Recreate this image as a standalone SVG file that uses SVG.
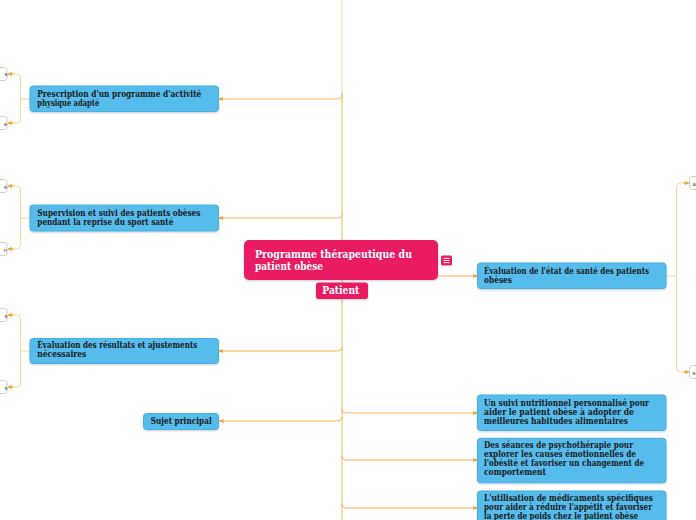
<svg xmlns="http://www.w3.org/2000/svg" width="696" height="520" viewBox="0 0 696 520">
<defs>
<style>
.n{fill:#55bcec;stroke:#49b0e2;stroke-width:1}
.t{font-family:"DejaVu Serif Condensed","DejaVu Serif",serif;font-weight:bold;font-size:8.6px;fill:#1a1a1a}
.ct{font-family:"DejaVu Serif Condensed","DejaVu Serif",serif;font-weight:bold;font-size:10.5px;fill:#ffffff}
.c{fill:none;stroke:#f5b555;stroke-width:1}
.b{fill:none;stroke:#fbd59a;stroke-width:1}
.s{fill:#ffffff;stroke:#cfcfcf;stroke-width:1}
.st{font-family:"Liberation Sans",sans-serif;font-size:6px;fill:#444}
</style>
<marker id="a" viewBox="0 0 6 6" refX="5" refY="3" markerWidth="5" markerHeight="5" orient="auto">
<path d="M0,0.5 L6,3 L0,5.5 Z" fill="#f5a53a"/>
</marker>
<filter id="sh" x="-5%" y="-20%" width="110%" height="150%">
<feDropShadow dx="0" dy="1" stdDeviation="0.8" flood-color="#000" flood-opacity="0.2"/>
</filter>
</defs>

<g id="connectors">
<line x1="342" y1="0" x2="342" y2="92" stroke="#d3e6a6" stroke-width="1"/>
<line class="c" x1="342" y1="92" x2="342" y2="520"/>
<path class="c" d="M342,95 Q342,99 338,99 L219,99" marker-end="url(#a)"/>
<path class="c" d="M342,214 Q342,218 338,218 L219,218" marker-end="url(#a)"/>
<path class="c" d="M342,347 Q342,351 338,351 L219,351" marker-end="url(#a)"/>
<path class="c" d="M342,417 Q342,421 338,421 L219.5,421" marker-end="url(#a)"/>
<path class="c" d="M342,272 Q342,276 346,276 L477,276" marker-end="url(#a)"/>
<path class="c" d="M342,409 Q342,413 346,413 L477,413" marker-end="url(#a)"/>
<path class="c" d="M342,456 Q342,460 346,460 L477,460" marker-end="url(#a)"/>
<path class="c" d="M342,504 Q342,508 346,508 L477,508" marker-end="url(#a)"/>
<path class="b" d="M30,99 L20.5,99"/>
<path class="b" d="M8,74 L16.5,74 Q20.5,74 20.5,78 L20.5,119 Q20.5,123 16.5,123 L8,123"/>
<path class="c" d="M14,74 L8,74" marker-end="url(#a)"/>
<path class="c" d="M14,123 L8,123" marker-end="url(#a)"/>
<path class="b" d="M30,218 L20.5,218"/>
<path class="b" d="M8,186 L16.5,186 Q20.5,186 20.5,190 L20.5,245 Q20.5,249 16.5,249 L8,249"/>
<path class="c" d="M14,186 L8,186" marker-end="url(#a)"/>
<path class="c" d="M14,249 L8,249" marker-end="url(#a)"/>
<path class="b" d="M30,351 L20.5,351"/>
<path class="b" d="M8,315 L16.5,315 Q20.5,315 20.5,319 L20.5,383 Q20.5,387 16.5,387 L8,387"/>
<path class="c" d="M14,315 L8,315" marker-end="url(#a)"/>
<path class="c" d="M14,387 L8,387" marker-end="url(#a)"/>
<path class="b" d="M666,276 L676.5,276"/>
<path class="b" d="M689,183 L680.5,183 Q676.5,183 676.5,187 L676.5,368 Q676.5,372 680.5,372 L689,372"/>
<path class="c" d="M683,183 L689,183" marker-end="url(#a)"/>
<path class="c" d="M683,372 L689,372" marker-end="url(#a)"/>
</g>

<g id="central">
<rect x="244" y="240" width="194" height="40" rx="5" fill="#e91e63" filter="url(#sh)"/>
<text class="ct"><tspan x="255" y="257.5" textLength="157" lengthAdjust="spacingAndGlyphs">Programme thérapeutique du</tspan><tspan x="255" y="269.5" textLength="68" lengthAdjust="spacingAndGlyphs">patient obèse</tspan></text>
</g>
<g id="central-icon">
<rect x="441" y="255.5" width="11" height="10" rx="1.5" fill="#e91e63"/>
<path d="M443.5,258.3 H449.5 M443.5,260.5 H449.5 M443.5,262.7 H449.5" stroke="#fff" stroke-width="0.9"/>
</g>
<g id="patient">
<rect x="316" y="282.5" width="52" height="16.5" rx="2.5" fill="#e91e63" filter="url(#sh)"/>
<text class="ct" x="322.3" y="294.2" textLength="37" lengthAdjust="spacingAndGlyphs">Patient</text>
</g>

<g id="n-prescription">
<rect class="n" x="30" y="86" width="188.5" height="25.5" rx="3" filter="url(#sh)"/>
<text class="t"><tspan x="37.3" y="96.5" textLength="164" lengthAdjust="spacingAndGlyphs">Prescription d'un programme d'activité</tspan><tspan x="37.3" y="105.5" textLength="62" lengthAdjust="spacingAndGlyphs">physique adapté</tspan></text>
</g>
<g id="n-supervision">
<rect class="n" x="30" y="205" width="188.5" height="26" rx="3" filter="url(#sh)"/>
<text class="t"><tspan x="37.3" y="216" textLength="163" lengthAdjust="spacingAndGlyphs">Supervision et suivi des patients obèses</tspan><tspan x="37.3" y="225" textLength="136" lengthAdjust="spacingAndGlyphs">pendant la reprise du sport santé</tspan></text>
</g>
<g id="n-resultats">
<rect class="n" x="30" y="338.5" width="188.5" height="25" rx="3" filter="url(#sh)"/>
<text class="t"><tspan x="37.3" y="348.3" textLength="160" lengthAdjust="spacingAndGlyphs">Évaluation des résultats et ajustements</tspan><tspan x="37.3" y="357.3" textLength="49" lengthAdjust="spacingAndGlyphs">nécessaires</tspan></text>
</g>
<g id="n-sujet">
<rect class="n" x="143.5" y="413.5" width="75" height="16" rx="3" filter="url(#sh)"/>
<text class="t" x="150.7" y="424.3" textLength="61" lengthAdjust="spacingAndGlyphs">Sujet principal</text>
</g>

<g id="n-evaluation">
<rect class="n" x="477.5" y="263" width="188.5" height="25.5" rx="3" filter="url(#sh)"/>
<text class="t"><tspan x="484" y="274" textLength="165" lengthAdjust="spacingAndGlyphs">Évaluation de l'état de santé des patients</tspan><tspan x="484" y="283" textLength="28" lengthAdjust="spacingAndGlyphs">obèses</tspan></text>
</g>
<g id="n-nutrition">
<rect class="n" x="477.5" y="395" width="188.5" height="35.5" rx="3" filter="url(#sh)"/>
<text class="t"><tspan x="484" y="406" textLength="165" lengthAdjust="spacingAndGlyphs">Un suivi nutritionnel personnalisé pour</tspan><tspan x="484" y="415" textLength="150" lengthAdjust="spacingAndGlyphs">aider le patient obèse à adopter de</tspan><tspan x="484" y="424.2" textLength="144" lengthAdjust="spacingAndGlyphs">meilleures habitudes alimentaires</tspan></text>
</g>
<g id="n-psycho">
<rect class="n" x="477.5" y="438.3" width="188.5" height="44.5" rx="3" filter="url(#sh)"/>
<text class="t"><tspan x="484" y="448.3" textLength="149" lengthAdjust="spacingAndGlyphs">Des séances de psychothérapie pour</tspan><tspan x="484" y="457.3" textLength="152" lengthAdjust="spacingAndGlyphs">explorer les causes émotionnelles de</tspan><tspan x="484" y="466.3" textLength="160" lengthAdjust="spacingAndGlyphs">l'obésité et favoriser un changement de</tspan><tspan x="484" y="475.3" textLength="62" lengthAdjust="spacingAndGlyphs">comportement</tspan></text>
</g>
<g id="n-medicaments">
<rect class="n" x="477.5" y="491" width="188.5" height="40" rx="3" filter="url(#sh)"/>
<text class="t"><tspan x="484" y="500.7" textLength="169" lengthAdjust="spacingAndGlyphs">L'utilisation de médicaments spécifiques</tspan><tspan x="484" y="509.7" textLength="168" lengthAdjust="spacingAndGlyphs">pour aider à réduire l'appétit et favoriser</tspan><tspan x="484" y="518.7" textLength="154" lengthAdjust="spacingAndGlyphs">la perte de poids chez le patient obèse</tspan></text>
</g>

<g id="sub-l1a"><rect class="s" x="-30" y="67.5" width="37" height="13" rx="2.5"/><text class="st" x="4.5" y="76">s</text></g>
<g id="sub-l1b"><rect class="s" x="-30" y="116.5" width="37" height="13" rx="2.5"/><text class="st" x="4" y="125.5">e</text></g>
<g id="sub-l2a"><rect class="s" x="-30" y="179.5" width="37" height="13" rx="2.5"/><text class="st" x="4" y="188.5">é</text></g>
<g id="sub-l2b"><rect class="s" x="-30" y="242.5" width="37" height="13" rx="2.5"/><text class="st" x="3.5" y="251.5">n</text></g>
<g id="sub-l3a"><rect class="s" x="-30" y="308.5" width="37" height="13" rx="2.5"/><text class="st" x="4.5" y="317.5">s</text></g>
<g id="sub-l3b"><rect class="s" x="-30" y="380.5" width="37" height="13" rx="2.5"/><text class="st" x="4.5" y="389.5">s</text></g>
<g id="sub-r1"><rect class="s" x="689.5" y="176.5" width="30" height="13" rx="2.5"/><text class="st" x="692.5" y="185.5">a</text></g>
<g id="sub-r2"><rect class="s" x="689.5" y="365.5" width="30" height="13" rx="2.5"/><text class="st" x="692.5" y="374.5">é</text></g>
</svg>
